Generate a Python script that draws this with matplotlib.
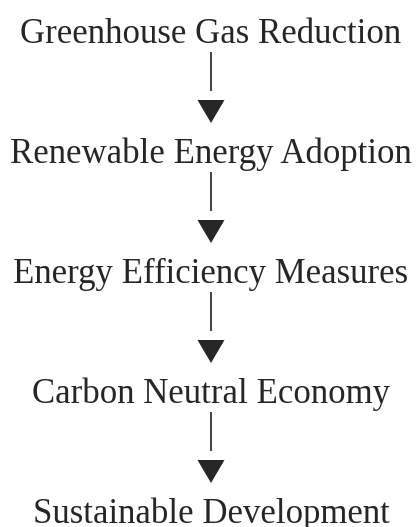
import matplotlib.pyplot as plt
from matplotlib.patches import Polygon

steps = [
    'Greenhouse Gas Reduction',
    'Renewable Energy Adoption',
    'Energy Efficiency Measures',
    'Carbon Neutral Economy',
    'Sustainable Development',
]

W, H = 417, 527
fig = plt.figure(figsize=(W / 100, H / 100), dpi=100)
ax = fig.add_axes([0, 0, 1, 1])
ax.set_xlim(0, W)
ax.set_ylim(H, 0)
ax.axis('off')

cx = 211
first_base = 43
gap = 120
ink = '#262626'

for i, label in enumerate(steps):
    base = first_base + i * gap
    ax.text(cx, base, label, ha='center', va='baseline', fontsize=25,
            family='Liberation Serif', color=ink)
    if i < len(steps) - 1:
        # connector stem and arrow head
        ax.plot([cx, cx], [base + 9, base + 48], color='#333333', lw=1.3,
                solid_capstyle='butt')
        ax.add_patch(Polygon([[cx - 13.5, base + 57], [cx + 13.5, base + 57],
                              [cx, base + 80]], closed=True,
                             facecolor=ink, edgecolor='none'))

fig.savefig('out.png', dpi=100)
